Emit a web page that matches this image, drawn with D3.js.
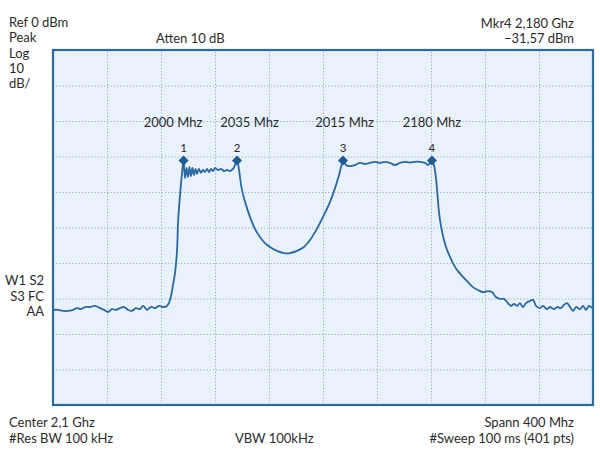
<!DOCTYPE html>
<html>
<head>
<meta charset="utf-8">
<script src="https://cdn.jsdelivr.net/npm/d3@7"></script>
<style>
  html, body { margin: 0; padding: 0; background: #ffffff; }
  svg { display: block; }
  text { font-family: Lato, "Open Sans", sans-serif; fill: #2b2b2b; }
</style>
</head>
<body>
<svg id="chart" width="600" height="454"></svg>
<script>
// ---- Data ----
const traceFreq = [
  1900.0,1903.7,1907.4,1911.1,1914.8,1917.8,1920.7,1923.7,1927.4,1931.1,1934.8,1937.8,1940.7,1943.7,1946.7,1949.6,
  1952.6,1955.6,1958.5,1961.5,1964.4,1966.7,1969.6,1972.6,1975.6,1978.5,1981.5,1984.4,
  1986.7,1988.9,1990.4,1991.9,1992.6,1994.1,1995.6,1996.7,
  1997.8,1998.9,2000.0,2001.1,2002.2,2003.3,2004.4,2005.6,2006.7,2008.1,2009.6,2011.1,2012.6,2014.1,2015.6,2017.0,
  2018.5,2020.0,2022.2,2024.4,2026.7,2028.9,2031.1,2033.3,2034.8,2036.3,
  2037.8,2039.3,2040.7,2043.0,2045.9,2049.6,2053.3,2057.0,2060.7,2065.9,2071.1,2075.6,2080.7,2085.9,2090.4,2094.1,
  2097.8,2101.5,2105.2,2108.9,2111.9,2114.1,2114.8,
  2117.0,2120.0,2123.7,2127.4,2131.1,2134.8,2138.5,2142.2,2145.9,2149.6,2153.3,2157.0,2160.7,2164.4,2168.1,2171.9,
  2175.6,2177.8,2179.3,2180.7,
  2182.2,2183.7,2184.8,2185.9,2187.4,2189.6,2191.9,2194.1,2197.0,2200.0,2203.7,2207.4,2211.1,2214.8,2218.5,2222.2,
  2225.2,2228.1,2231.1,2234.1,2237.0,2239.3,2241.5,2243.7,2245.9,2248.1,2250.4,2253.3,2255.6,2257.8,2260.7,2263.0,
  2265.9,2268.1,2271.1,2273.3,2276.3,2278.5,2280.7,2283.0,2285.2,2287.4,2290.4,2292.6,2294.8,2297.0,2299.3
];
const traceLevel = [
  -73.2,-73.2,-73.5,-73.5,-73.2,-72.7,-73.0,-72.4,-72.4,-72.1,-72.7,-73.2,-73.8,-73.0,-73.2,-72.7,
  -72.4,-73.2,-73.5,-72.7,-73.0,-72.1,-73.2,-72.4,-72.7,-72.1,-72.4,-72.1,
  -70.4,-66.2,-62.8,-56.3,-48.7,-40.8,-34.6,-31.0,
  -36.1,-33.2,-35.8,-32.9,-35.5,-33.2,-35.2,-33.5,-34.9,-33.5,-34.6,-33.8,-34.4,-33.5,-34.4,-33.5,
  -34.1,-33.2,-33.8,-33.5,-34.1,-33.8,-34.1,-33.5,-32.4,-31.0,
  -33.8,-38.0,-40.6,-43.7,-47.0,-50.4,-52.7,-54.4,-55.5,-56.6,-57.2,-57.2,-56.6,-55.5,-53.5,-51.3,
  -48.7,-45.9,-42.8,-38.9,-35.2,-31.8,-31.0,
  -32.4,-32.7,-32.4,-31.8,-32.1,-31.8,-31.5,-31.8,-31.5,-31.8,-32.4,-31.8,-31.5,-31.7,-31.5,-31.5,
  -31.8,-32.4,-31.8,-31.0,
  -32.4,-36.1,-40.8,-45.6,-49.6,-53.5,-56.3,-58.3,-60.6,-62.3,-63.9,-65.4,-66.8,-67.6,-68.2,-67.9,
  -68.2,-69.6,-70.1,-70.1,-71.3,-72.1,-71.5,-72.1,-71.3,-72.4,-71.3,-70.7,-70.4,-72.1,-72.7,-72.1,
  -73.0,-72.4,-73.0,-72.4,-72.7,-71.8,-71.3,-72.4,-73.5,-72.4,-73.0,-72.1,-73.2,-72.1,-72.7
];
const markerNames = ["1", "2", "3", "4"];
const markerFreq = [1996.7, 2036.3, 2114.8, 2180.7];
const markerLevel = [-31.1, -31.1, -31.1, -31.1];
const markerLabels = ["2000 Mhz", "2035 Mhz", "2015 Mhz", "2180 Mhz"];

const freqDomain = [1900, 2300];   // Center 2,1 GHz, Span 400 MHz
const levelDomain = [-100, 0];     // Ref 0 dBm, 10 dB/div
const divisions = 10;

const leftLines = ["Ref 0 dBm", "Peak", "Log", "10", "dB/"];
const sideLines = ["W1 S2", "S3 FC", "AA"];
const headerCenter = "Atten 10 dB";
const headerRight = ["Mkr4 2,180 Ghz", "\u221231,57 dBm"];
const footerLeft = ["Center 2,1 Ghz", "#Res BW 100 kHz"];
const footerCenter = "VBW 100kHz";
const footerRight = ["Spann 400 Mhz", "#Sweep 100 ms (401 pts)"];

// ---- Layout ----
const plot = { x0: 53, y0: 50, x1: 593, y1: 405 };
const labelOffset = [-10.5, 12.5, 1.5, 0];

const svg = d3.select("#chart");
const x = d3.scaleLinear().domain(freqDomain).range([plot.x0, plot.x1]);
const y = d3.scaleLinear().domain(levelDomain).range([plot.y1, plot.y0]);

// plot background
svg.append("rect")
  .attr("x", plot.x0).attr("y", plot.y0)
  .attr("width", plot.x1 - plot.x0).attr("height", plot.y1 - plot.y0)
  .attr("fill", "#e9f2fb");

// grid via axes
const xTicks = d3.range(1, divisions).map(i => freqDomain[0] + i * (freqDomain[1] - freqDomain[0]) / divisions);
const yTicks = d3.range(1, divisions).map(i => levelDomain[0] + i * (levelDomain[1] - levelDomain[0]) / divisions);

const gx = svg.append("g")
  .attr("transform", `translate(0,${plot.y1})`)
  .call(d3.axisBottom(x).tickValues(xTicks).tickSize(-(plot.y1 - plot.y0)).tickFormat(""));
const gy = svg.append("g")
  .attr("transform", `translate(${plot.x0},0)`)
  .call(d3.axisLeft(y).tickValues(yTicks).tickSize(-(plot.x1 - plot.x0)).tickFormat(""));
[gx, gy].forEach(g => {
  g.select(".domain").remove();
  g.selectAll(".tick line")
    .attr("stroke", "#8fb0cf")
    .attr("stroke-width", 1)
    .attr("stroke-dasharray", "1.2,2");
});

// trace
const pts = traceFreq.map((f, i) => [f, traceLevel[i]]);
const line = d3.line().x(d => x(d[0])).y(d => y(d[1])).curve(d3.curveCatmullRom.alpha(0.5));
svg.append("path")
  .datum(pts)
  .attr("d", line)
  .attr("fill", "none")
  .attr("stroke", "#2a68a2")
  .attr("stroke-width", 1.8)
  .attr("stroke-linejoin", "round");

// frame
svg.append("rect")
  .attr("x", plot.x0).attr("y", plot.y0)
  .attr("width", plot.x1 - plot.x0).attr("height", plot.y1 - plot.y0)
  .attr("fill", "none")
  .attr("stroke", "#2d6aa2")
  .attr("stroke-width", 2.2);

// markers
const mk = svg.append("g");
markerFreq.forEach((f, i) => {
  const cx = x(f), cy = y(markerLevel[i]);
  mk.append("path")
    .attr("d", d3.symbol().type(d3.symbolDiamond2).size(64)())
    .attr("transform", `translate(${cx},${cy})`)
    .attr("fill", "#1f5c92");
  mk.append("text")
    .attr("x", cx).attr("y", cy - 8)
    .attr("text-anchor", "middle")
    .attr("font-size", 11.5)
    .text(markerNames[i]);
  mk.append("text")
    .attr("x", cx + labelOffset[i]).attr("y", cy - 33)
    .attr("text-anchor", "middle")
    .attr("font-size", 13)
    .text(markerLabels[i]);
});

// annotations
const fs = 13;
leftLines.forEach((t, i) => {
  svg.append("text").attr("x", 9).attr("y", 27 + i * 15.3).attr("font-size", fs).text(t);
});
svg.append("text").attr("x", 156).attr("y", 43).attr("font-size", fs).text(headerCenter);
headerRight.forEach((t, i) => {
  svg.append("text").attr("x", 574).attr("y", 28 + i * 15.3).attr("text-anchor", "end").attr("font-size", fs).text(t);
});
sideLines.forEach((t, i) => {
  svg.append("text").attr("x", 44).attr("y", 285 + i * 15.5).attr("text-anchor", "end").attr("font-size", fs).text(t);
});
footerLeft.forEach((t, i) => {
  svg.append("text").attr("x", 9).attr("y", 427 + i * 15.5).attr("font-size", fs).text(t);
});
svg.append("text").attr("x", 235).attr("y", 443).attr("font-size", fs).text(footerCenter);
footerRight.forEach((t, i) => {
  svg.append("text").attr("x", 574).attr("y", 427 + i * 15.5).attr("text-anchor", "end").attr("font-size", fs).text(t);
});
</script>
</body>
</html>
